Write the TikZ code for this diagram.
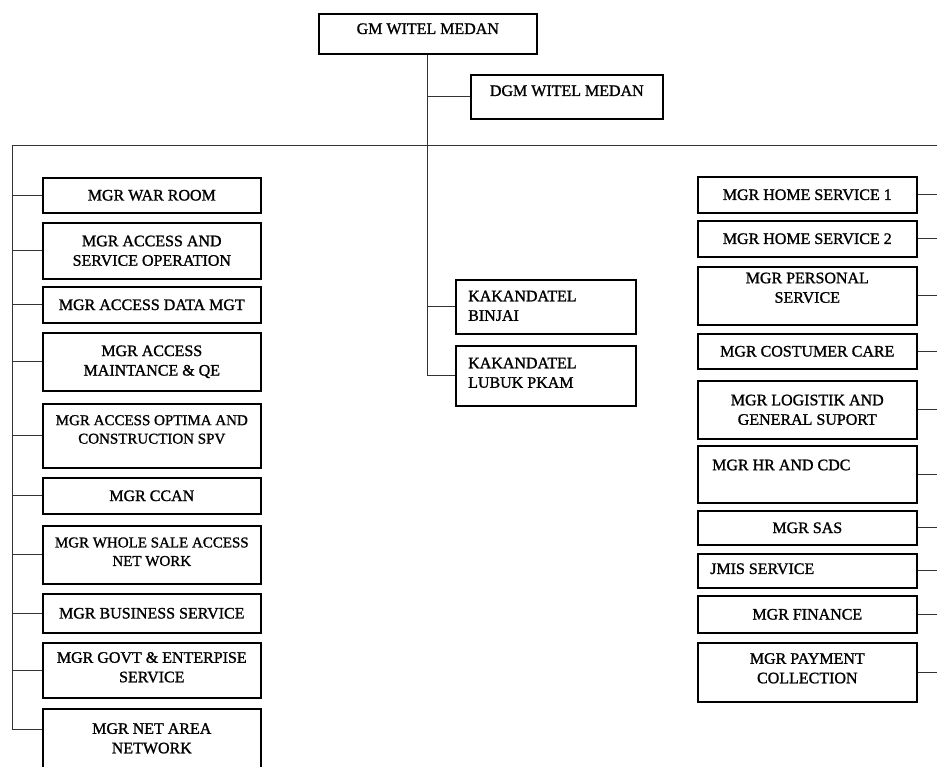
\documentclass[tikz,border=0pt]{standalone}
\usepackage{fontspec}
\setmainfont{Liberation Serif}[BoldFont={Liberation Serif},BoldFeatures={FakeBold=1.2}]
\newcommand{\fsA}{\fontsize{16}{19.5}\selectfont\bfseries}
\newcommand{\fsC}{\fontsize{15}{18.5}\selectfont\bfseries}
\begin{document}
\begin{tikzpicture}[x=1pt,y=-1pt,
  box/.style={draw=black, line width=1.6pt, inner sep=0pt, anchor=north west, align=center, font=\fsA},
  conn/.style={line width=0.8pt, draw=black!80},
  txt/.style={inner sep=0pt, font=\fsA, align=left},
  ctxt/.style={inner sep=0pt, font=\fsA, align=center}]
\useasboundingbox[fill=white] (0,0) rectangle (937,766);

% top
\node[box, minimum width=218pt, minimum height=40pt] (GM) at (318,13) {};
\node[ctxt] at ([yshift=5pt]GM.center) {GM WITEL MEDAN};
\node[box, minimum width=192pt, minimum height=44pt] (DGM) at (470,74) {};
\node[ctxt] at ([yshift=6pt]DGM.center) {DGM WITEL MEDAN};

% middle
\node[box, minimum width=180pt, minimum height=54pt] (K1) at (455,279) {};
\node[txt, anchor=north west] at ([xshift=13pt,yshift=-11.5pt]K1.north west) {KAKANDATEL\\BINJAI};
\node[box, minimum width=180pt, minimum height=60pt] (K2) at (455,345) {};
\node[txt, anchor=north west] at ([xshift=13pt,yshift=-12.5pt]K2.north west) {KAKANDATEL\\LUBUK PKAM};

% left column
\node[box, minimum width=218pt, minimum height=35pt] (L1) at (42,177) {MGR WAR ROOM};
\node[box, minimum width=218pt, minimum height=56pt] (L2) at (42,222) {MGR ACCESS AND\\SERVICE OPERATION};
\node[box, minimum width=218pt, minimum height=36pt] (L3) at (42,286) {MGR ACCESS DATA MGT};
\node[box, minimum width=218pt, minimum height=58pt] (L4) at (42,332) {MGR ACCESS\\MAINTANCE \& QE};
\node[box, minimum width=218pt, minimum height=64pt] (L5) at (42,403) {};
\node[ctxt, font=\fsC, anchor=north] at ([yshift=-12pt]L5.north) {MGR ACCESS OPTIMA AND\\CONSTRUCTION SPV};
\node[box, minimum width=218pt, minimum height=36pt] (L6) at (42,477) {MGR CCAN};
\node[box, minimum width=218pt, minimum height=58pt] (L7) at (42,525) {};
\node[ctxt, font=\fsC] at ([yshift=3pt]L7.center) {MGR WHOLE SALE ACCESS\\NET WORK};
\node[box, minimum width=218pt, minimum height=39pt] (L8) at (42,593) {MGR BUSINESS SERVICE};
\node[box, minimum width=218pt, minimum height=55pt] (L9) at (42,642) {};
\node[ctxt] at ([yshift=3pt]L9.center) {MGR GOVT \& ENTERPISE\\SERVICE};
\node[box, minimum width=218pt, minimum height=62pt] (L10) at (42,708) {};
\node[ctxt, anchor=north] at ([yshift=-15pt]L10.north) {MGR NET AREA\\NETWORK};

% right column
\node[box, minimum width=219pt, minimum height=36pt] (R1) at (697,176) {MGR HOME SERVICE 1};
\node[box, minimum width=219pt, minimum height=36pt] (R2) at (697,220) {MGR HOME SERVICE 2};
\node[box, minimum width=219pt, minimum height=58pt] (R3) at (697,266) {};
\node[ctxt] at ([yshift=8pt]R3.center) {MGR PERSONAL\\SERVICE};
\node[box, minimum width=219pt, minimum height=35pt] (R4) at (697,333) {MGR COSTUMER CARE};
\node[box, minimum width=219pt, minimum height=58pt] (R5) at (697,380) {MGR LOGISTIK AND\\GENERAL SUPORT};
\node[box, minimum width=219pt, minimum height=57pt] (R6) at (697,445) {};
\node[txt, anchor=west] at ([xshift=15pt,yshift=-20pt]R6.north west) {MGR HR AND CDC};
\node[box, minimum width=219pt, minimum height=34pt] (R7) at (697,510) {MGR SAS};
\node[box, minimum width=219pt, minimum height=34pt] (R8) at (697,553) {};
\node[txt, anchor=west] at ([xshift=13pt,yshift=2pt]R8.west) {JMIS SERVICE};
\node[box, minimum width=219pt, minimum height=37pt] (R9) at (697,595) {MGR FINANCE};
\node[box, minimum width=219pt, minimum height=59pt] (R10) at (697,642) {};
\node[ctxt] at ([yshift=4pt]R10.center) {MGR PAYMENT\\COLLECTION};

% connectors
\coordinate (lt) at (12,145);
\coordinate (rt) at (937,145);
\coordinate (c10) at ([yshift=-21pt]L10.north west);
\draw[conn] (GM.south) -- (GM.south |- K2.west);
\draw[conn] (GM.south |- DGM.west) -- (DGM.west);
\draw[conn] (GM.south |- K1.west) -- (K1.west);
\draw[conn] (GM.south |- K2.west) -- (K2.west);
\draw[conn] (lt) -- (rt);
\draw[conn] (lt) |- (c10);
\foreach \n in {L1,L2,L3,L4,L5,L6,L7,L8,L9}
  \draw[conn] (lt |- \n.west) -- (\n.west);
\foreach \n in {R1,R2,R3,R4,R5,R6,R7,R8,R9,R10}
  \draw[conn] (\n.east) -- (rt |- \n.east);
\end{tikzpicture}
\end{document}
